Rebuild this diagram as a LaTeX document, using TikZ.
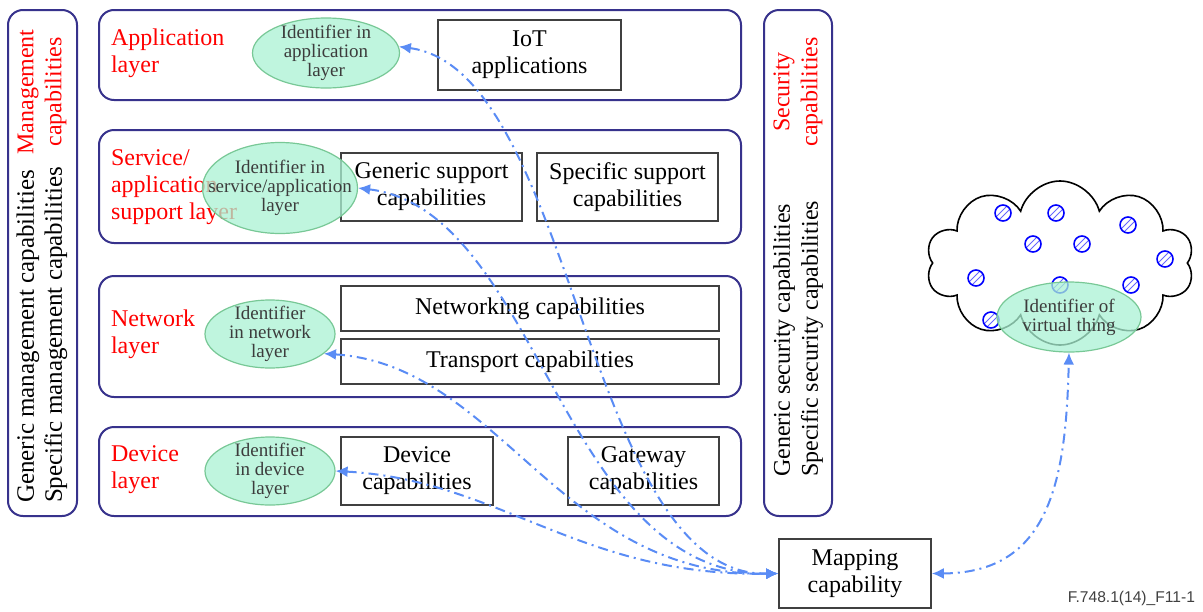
\documentclass[tikz,border=0pt]{standalone}
\usepackage{fontspec}
\setmainfont{Liberation Serif}
\setsansfont{Liberation Sans}
\usetikzlibrary{arrows.meta,positioning,shapes.geometric,shapes.symbols}

\definecolor{layerblue}{RGB}{55,50,140}
\definecolor{boxgray}{RGB}{64,64,64}
\definecolor{idfill}{RGB}{170,242,212}
\definecolor{idborder}{RGB}{120,200,150}
\definecolor{idtext}{RGB}{60,60,60}
\definecolor{linkblue}{RGB}{90,140,245}

\begin{document}
\begin{tikzpicture}[
  x=0.5pt, y=-0.5pt,
  every node/.style = {align=center, font=\fontsize{12}{13.5}\selectfont},
  layerbox/.style = {draw=layerblue, line width=1pt, rounded corners=7.5pt, fill=white},
  capbox/.style = {draw=boxgray, line width=0.8pt, fill=white, inner sep=0pt},
  layername/.style = {text=red, anchor=west, align=left},
  sidetext/.style = {rotate=90, font=\fontsize{12}{14}\selectfont},
  idnode/.style = {ellipse, draw=idborder, line width=0.6pt, fill=idfill, fill opacity=0.75, text opacity=1,
    text=idtext, inner xsep=-10pt, inner ysep=-4pt, font=\fontsize{9.5}{9.5}\selectfont},
  thing/.style = {circle, draw=blue, line width=0.8pt, minimum size=8pt, inner sep=0pt,
    path picture={\draw[blue!60, line width=0.4pt]
      ([xshift=-1.5pt]path picture bounding box.south west) -- ([xshift=-1.5pt]path picture bounding box.north east)
      ([xshift=1.5pt]path picture bounding box.south west) -- ([xshift=1.5pt]path picture bounding box.north east);}},
  link/.style = {draw=linkblue, line width=1pt, dash pattern=on 5pt off 2.5pt on 1pt off 2.5pt,
    <->, >={Latex[length=6pt,width=5.5pt]}}
]
\useasboundingbox (0,0) rectangle (1203,611);

% side boxes
\node[layerbox, minimum width=34.5pt, minimum height=253pt] (mgmt) at (42.5,263) {};
\node[layerbox, minimum width=34pt, minimum height=253pt] (secu) at (798,263) {};
\node[sidetext, text=red] (mgmtname) at (42,92) {Management\\capabilities};
\node[sidetext, align=left, font=\fontsize{12.5}{14}\selectfont] (mgmtcaps) at (42,335) {Generic management capabilities\\Specific management capabilities};
\node[sidetext, text=red] (secuname) at (798,92) {Security\\capabilities};
\node[sidetext, align=left] (secucaps) at (798,339) {Generic security capabilities\\Specific security capabilities};

% layers
\node[layerbox, minimum width=321pt, minimum height=45pt] (applayer) at (420,55) {};
\node[layerbox, minimum width=321pt, minimum height=56.5pt] (svclayer) at (420,186.5) {};
\node[layerbox, minimum width=321pt, minimum height=60.5pt] (netlayer) at (420,336.5) {};
\node[layerbox, minimum width=321pt, minimum height=44.5pt] (devlayer) at (420,471.5) {};

\node[layername] (appname) at (104,53) {Application\\layer};
\node[layername] (svcname) at (104,187) {Service/\\application\\support layer};
\node[layername] (netname) at (104,334) {Network\\layer};
\node[layername] (devname) at (104,470) {Device\\layer};

\node[capbox, minimum width=91.5pt, minimum height=35pt] (iot) at (529.5,55) {IoT\\applications};
\node[capbox, minimum width=90.5pt, minimum height=34pt] (gensup) at (431.5,187) {Generic support\\capabilities};
\node[capbox, minimum width=90.5pt, minimum height=34pt] (specsup) at (627.5,187) {Specific support\\capabilities};
\node[capbox, minimum width=189pt, minimum height=22.5pt] (netw) at (530,308.5) {Networking capabilities};
\node[capbox, minimum width=189pt, minimum height=22.5pt] (trans) at (530,361.5) {Transport capabilities};
\node[capbox, minimum width=76pt, minimum height=34pt] (devcap) at (417,471) {Device\\capabilities};
\node[capbox, minimum width=75.5pt, minimum height=34pt] (gwcap) at (643.5,471) {Gateway\\capabilities};

\node[idnode, minimum width=73.5pt, minimum height=35pt] (appid) at (326,53) {Identifier in\\application\\layer};
\node[idnode, minimum width=77.5pt, minimum height=45.5pt] (svcid) at (280,188) {Identifier in\\service/application\\layer};
\node[idnode, minimum width=65pt, minimum height=34pt] (netid) at (270,334) {Identifier\\in network\\layer};
\node[idnode, minimum width=65pt, minimum height=34pt] (devid) at (270,471) {Identifier\\in device\\layer};

% cloud of virtual things
\node[cloud, draw=black, line width=0.8pt, cloud puffs=10, minimum width=134pt, minimum height=82pt] (cloud) at (1060,263) {};
\foreach \x/\y [count=\i] in {1003/213, 1056/213, 1128/225, 1033/244, 1082/244,
                               1165/259, 976/278, 1060/285, 1131/285, 991/320}
  \node[thing] (t\i) at (\x,\y) {};
\node[idnode, minimum width=72pt, minimum height=35pt] (vtid) at (1069,317) {Identifier of\\virtual thing};

\node[capbox, minimum width=76pt, minimum height=34.5pt] (map) at (855,573.5) {Mapping\\capability};
\node[font=\sffamily\fontsize{7.8}{9}\selectfont, text=boxgray, anchor=east] (figref) at (1202,598) {F.748.1(14)\_F11-1};

% links to the mapping capability
\draw[link] (appid.5) .. controls (575,70) and (585,577) .. (map.west);
\draw[link] (svcid.east) .. controls (540,210) and (560,575) .. (map.west);
\draw[link] (netid.-20) .. controls (500,365) and (560,577) .. (map.west);
\draw[link] (devid.east) .. controls (500,480) and (580,577) .. (map.west);
\draw[link] (map.east) .. controls (1050,573) and (1066,480) .. (vtid.south);

\end{tikzpicture}
\end{document}
